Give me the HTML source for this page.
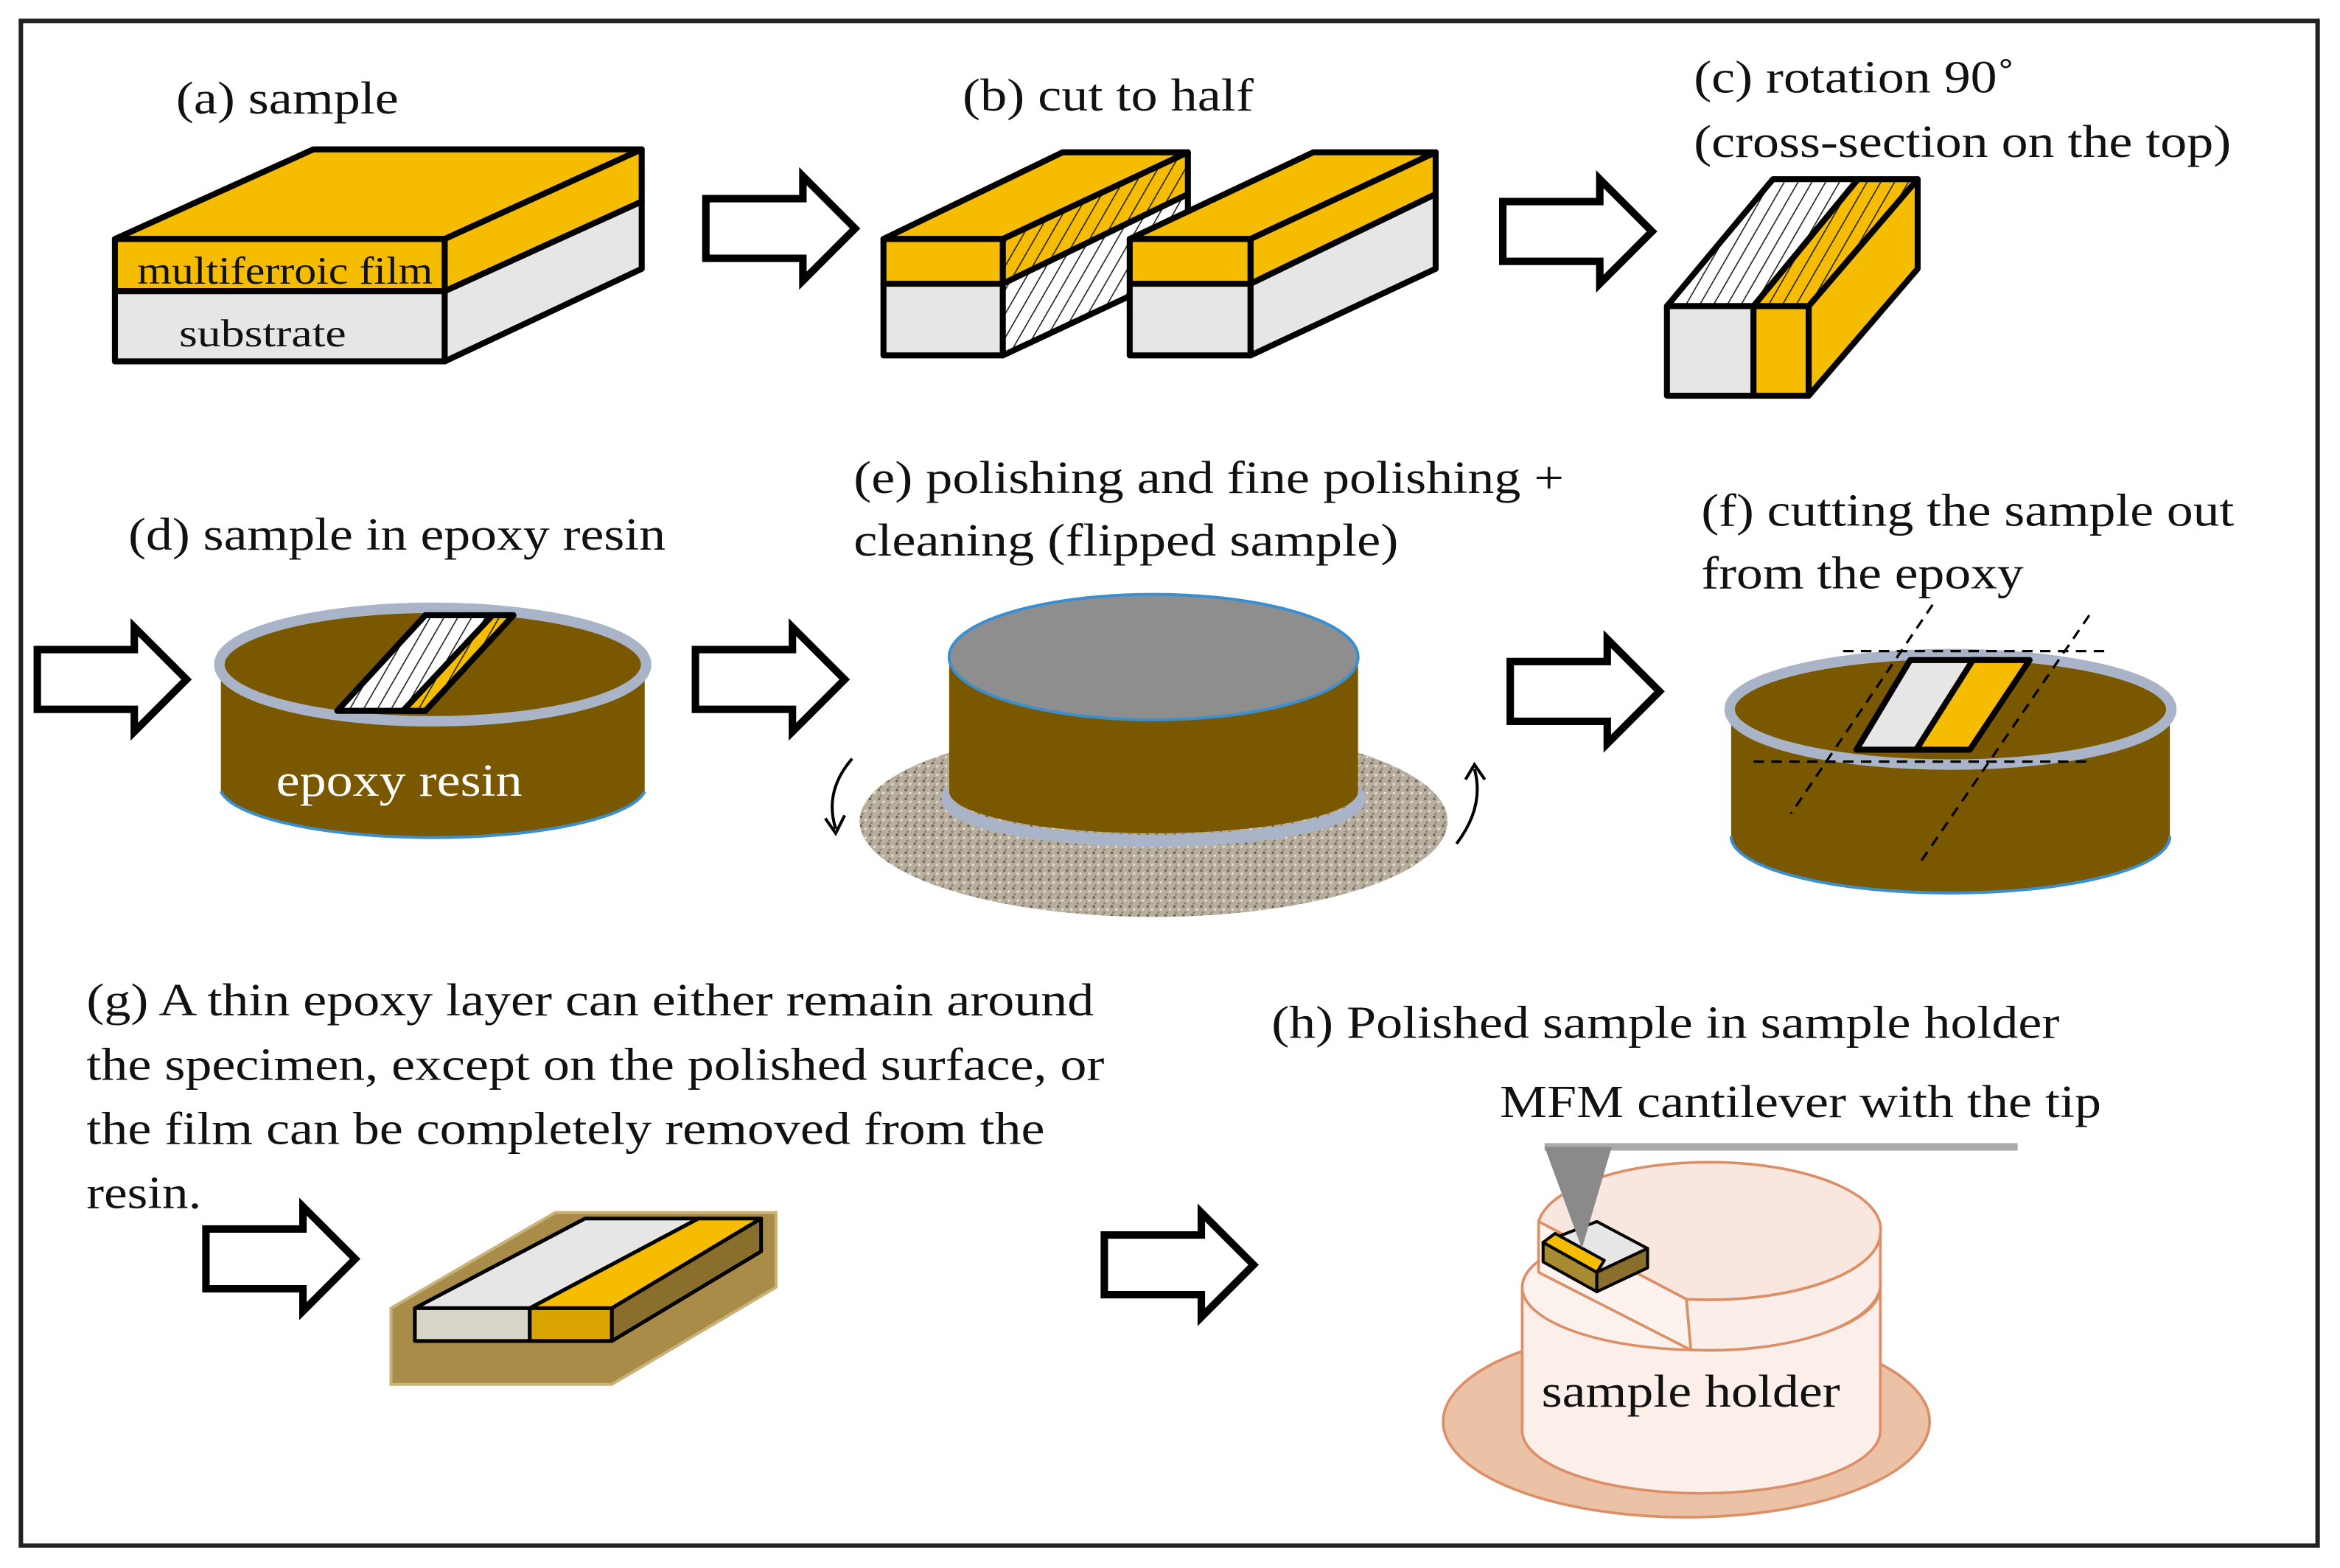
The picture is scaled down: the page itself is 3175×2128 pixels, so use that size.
<!DOCTYPE html>
<html><head><meta charset="utf-8"><style>
html,body{margin:0;padding:0;background:#fff}
svg{display:block}
text{font-family:"Liberation Serif",serif;font-size:31px;fill:#111}
</style></head><body>
<svg width="3175" height="2128" viewBox="0 0 1568 1050" preserveAspectRatio="none" xmlns="http://www.w3.org/2000/svg">
<defs>
<pattern id="hb" width="8" height="8" patternUnits="userSpaceOnUse" patternTransform="rotate(30)">
<rect width="8" height="8" fill="#fff"/><line x1="0" y1="0" x2="0" y2="8" stroke="#222" stroke-width="1.6"/></pattern>
<pattern id="hy" width="8" height="8" patternUnits="userSpaceOnUse" patternTransform="rotate(30)">
<rect width="8" height="8" fill="#f6bd00"/><line x1="0" y1="0" x2="0" y2="8" stroke="#222" stroke-width="1.6"/></pattern>
<pattern id="grain" width="6" height="6" patternUnits="userSpaceOnUse">
<rect width="6" height="6" fill="#b8ae9e"/><circle cx="1" cy="1" r="0.9" fill="#6f665a"/><circle cx="4" cy="3" r="0.8" fill="#e8e2d6"/><circle cx="2" cy="5" r="0.7" fill="#857a6a"/></pattern>
<g id="arr"><path d="M0,15 H65 V0 L100,35 L65,70 V55 H0 Z" fill="#fff" stroke="#000" stroke-width="5" stroke-linejoin="miter"/></g>
</defs>
<rect x="0" y="0" width="1568" height="1050" fill="#fff"/>
<rect x="14" y="14" width="1539" height="1021" fill="none" stroke="#222" stroke-width="3"/>

<!-- (a) -->
<text x="118" y="76" textLength="149" lengthAdjust="spacingAndGlyphs">(a) sample</text>
<g stroke="#000" stroke-width="4" stroke-linejoin="round">
<polygon points="77,160 298,160 430,100 210,100" fill="#f6bd00"/>
<rect x="77" y="160" width="221" height="35" fill="#f6bd00"/>
<rect x="77" y="195" width="221" height="47" fill="#e6e6e6"/>
<polygon points="298,160 430,100 430,135 298,195" fill="#f6bd00"/>
<polygon points="298,195 430,135 430,180 298,242" fill="#e6e6e6"/>
</g>
<text x="92" y="190" style="font-size:26px" textLength="198" lengthAdjust="spacingAndGlyphs">multiferroic film</text>
<text x="120" y="232" style="font-size:26px" textLength="112" lengthAdjust="spacingAndGlyphs">substrate</text>
<use href="#arr" x="473" y="118"/>

<!-- (b) -->
<text x="645" y="74" textLength="195" lengthAdjust="spacingAndGlyphs">(b) cut to half</text>
<g stroke="#000" stroke-width="4" stroke-linejoin="round">
<polygon points="592,160 672,160 796,102 712,102" fill="#f6bd00"/>
<rect x="592" y="160" width="80" height="30" fill="#f6bd00"/>
<rect x="592" y="190" width="80" height="48" fill="#e6e6e6"/>
<polygon points="672,160 796,102 796,130 672,190" fill="url(#hy)"/>
<polygon points="672,190 796,130 796,180 672,238" fill="url(#hb)"/>
<polygon points="757,160 838,160 962,102 880,102" fill="#f6bd00"/>
<rect x="757" y="160" width="81" height="30" fill="#f6bd00"/>
<rect x="757" y="190" width="81" height="48" fill="#e6e6e6"/>
<polygon points="838,160 962,102 962,130 838,190" fill="#f6bd00"/>
<polygon points="838,190 962,130 962,180 838,238" fill="#e6e6e6"/>
</g>
<use href="#arr" x="1007" y="120"/>

<!-- (c) -->
<text x="1135" y="62" textLength="215" lengthAdjust="spacingAndGlyphs">(c) rotation 90˚</text>
<text x="1135" y="105" textLength="360" lengthAdjust="spacingAndGlyphs">(cross-section on the top)</text>
<g stroke="#000" stroke-width="4" stroke-linejoin="round">
<polygon points="1117,205 1175,205 1245,120 1188,120" fill="url(#hb)"/>
<polygon points="1175,205 1212,205 1285,120 1245,120" fill="url(#hy)"/>
<rect x="1117" y="205" width="58" height="60" fill="#e6e6e6"/>
<rect x="1175" y="205" width="37" height="60" fill="#f6bd00"/>
<polygon points="1212,205 1285,120 1285,180 1212,265" fill="#f6bd00"/>
</g>

<!-- (d) -->
<text x="86" y="368" textLength="360" lengthAdjust="spacingAndGlyphs">(d) sample in epoxy resin</text>
<use href="#arr" x="25" y="420"/>
<path d="M148,445 V530 A143,35 0 0 0 432,530 V445 Z" fill="#7a5800"/>
<path d="M148,530 A143,35 0 0 0 432,530" fill="none" stroke="#3a8fd0" stroke-width="2"/>
<ellipse cx="290" cy="445" rx="143" ry="38" fill="#7a5800" stroke="#aab4c8" stroke-width="7"/>
<g stroke="#000" stroke-width="4" stroke-linejoin="round">
<polygon points="226,476 285,476 344,412 285,412" fill="url(#hb)"/>
<polygon points="270,476 285,476 344,412 330,412" fill="url(#hy)"/>
</g>
<text x="185" y="533" style="fill:#fff" textLength="165" lengthAdjust="spacingAndGlyphs">epoxy resin</text>
<use href="#arr" x="466" y="420"/>

<!-- (e) -->
<text x="572" y="330" textLength="476" lengthAdjust="spacingAndGlyphs">(e) polishing and fine polishing +</text>
<text x="572" y="372" textLength="365" lengthAdjust="spacingAndGlyphs">cleaning (flipped sample)</text>
<ellipse cx="773" cy="550" rx="197" ry="64" fill="url(#grain)"/>
<ellipse cx="773" cy="535" rx="138" ry="28" fill="none" stroke="#aab4c8" stroke-width="8"/>
<path d="M636,440 V530 A137,28 0 0 0 910,530 V440 Z" fill="#7a5800"/>
<ellipse cx="773" cy="440" rx="137" ry="42" fill="#8e8e8e" stroke="#3a8fd0" stroke-width="2"/>
<path d="M571,508 Q552,530 560,555" fill="none" stroke="#000" stroke-width="2"/>
<path d="M553,548 L560,558 L566,546" fill="none" stroke="#000" stroke-width="2"/>
<path d="M976,565 Q995,540 988,515" fill="none" stroke="#000" stroke-width="2"/>
<path d="M982,522 L988,512 L995,522" fill="none" stroke="#000" stroke-width="2"/>
<use href="#arr" x="1012" y="428"/>

<!-- (f) -->
<text x="1140" y="352" textLength="357" lengthAdjust="spacingAndGlyphs">(f) cutting the sample out</text>
<text x="1140" y="394" textLength="216" lengthAdjust="spacingAndGlyphs">from the epoxy</text>
<path d="M1160,475 V560 A147,38 0 0 0 1454,560 V475 Z" fill="#7a5800"/>
<path d="M1160,560 A147,38 0 0 0 1454,560" fill="none" stroke="#3a8fd0" stroke-width="2"/>
<ellipse cx="1307" cy="475" rx="148" ry="37" fill="#7a5800" stroke="#aab4c8" stroke-width="7"/>
<g stroke="#000" stroke-width="4" stroke-linejoin="round">
<polygon points="1244,502 1300,502 1335,442 1280,442" fill="#e6e6e6"/>
<polygon points="1284,502 1320,502 1360,442 1322,442" fill="#f6bd00"/>
</g>
<g stroke="#000" stroke-width="1.6" stroke-dasharray="7,5" fill="none">
<line x1="1235" y1="436" x2="1415" y2="436"/>
<line x1="1175" y1="510" x2="1398" y2="510"/>
<line x1="1295" y1="405" x2="1200" y2="545"/>
<line x1="1400" y1="412" x2="1285" y2="580"/>
</g>

<!-- (g) -->
<text x="58" y="680" textLength="675" lengthAdjust="spacingAndGlyphs">(g) A thin epoxy layer can either remain around</text>
<text x="58" y="723" textLength="682" lengthAdjust="spacingAndGlyphs">the specimen, except on the polished surface, or</text>
<text x="58" y="766" textLength="642" lengthAdjust="spacingAndGlyphs">the film can be completely removed from the</text>
<text x="58" y="809" textLength="77" lengthAdjust="spacingAndGlyphs">resin.</text>
<use href="#arr" x="138" y="808"/>
<polygon points="262,876 262,927 410,927 520,862 520,812 372,812" fill="#a88c48" stroke="#c9b27a" stroke-width="2"/>
<g stroke="#000" stroke-width="2.5" stroke-linejoin="round">
<polygon points="278,876 355,876 468,816 392,816" fill="#e6e6e6"/>
<polygon points="355,876 410,876 510,816 468,816" fill="#f6bd00"/>
<rect x="278" y="876" width="77" height="22" fill="#d8d4c8"/>
<rect x="355" y="876" width="55" height="22" fill="#d9a400"/>
<polygon points="410,876 510,816 510,838 410,898" fill="#8a6e2c"/>
</g>
<use href="#arr" x="740" y="812"/>

<!-- (h) -->
<text x="852" y="695" textLength="528" lengthAdjust="spacingAndGlyphs">(h) Polished sample in sample holder</text>
<text x="1005" y="748" textLength="403" lengthAdjust="spacingAndGlyphs">MFM cantilever with the tip</text>
<g stroke="#dc8f66" stroke-width="1.8" stroke-linejoin="round">
<ellipse cx="1130" cy="952" rx="163" ry="64" fill="#ecc2a6"/>
<path d="M1020,862 V958 A120,42 0 0 0 1260,958 V862 Z" fill="#fcefea"/>
<ellipse cx="1140" cy="862" rx="120" ry="42" fill="#fbf1ed"/>
<path d="M1031,818 A115,45 0 0 1 1260,826 A115,45 0 0 1 1130,870 Z" fill="#f9e6de"/>
<path d="M1130,870 A115,45 0 0 0 1260,826 V862 A115,45 0 0 1 1133,904 Z" fill="#fbeee8"/>
<path d="M1031,818 L1130,870 L1133,904 L1031,852 Z" fill="#fcf3ef"/>
</g>
<line x1="1035" y1="768" x2="1352" y2="768" stroke="#aaa" stroke-width="5"/>
<g stroke="#000" stroke-width="2" stroke-linejoin="round">
<polygon points="1034,832 1070,852 1104,836 1070,818" fill="#e6e6e6"/>
<polygon points="1034,832 1070,852 1075,844 1042,826" fill="#f6bd00"/>
<polygon points="1034,832 1034,845 1070,865 1070,852" fill="#a88a30"/>
<polygon points="1070,852 1070,865 1104,849 1104,836" fill="#8a6e2c"/>
</g>
<polygon points="1035,768 1080,768 1060,836" fill="#8a8a8a"/>
<text x="1033" y="942" textLength="200" lengthAdjust="spacingAndGlyphs">sample holder</text>
</svg>
</body></html>
